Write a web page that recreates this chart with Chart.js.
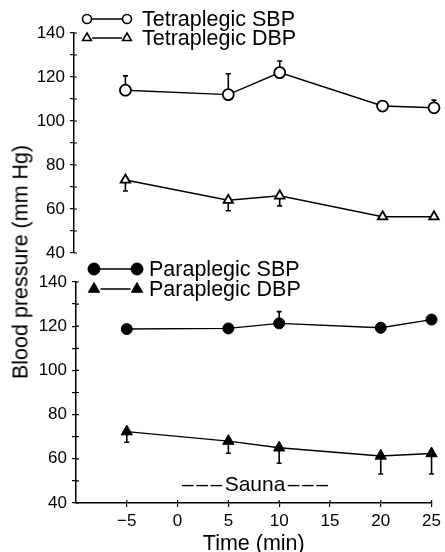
<!DOCTYPE html>
<html>
<head>
<meta charset="utf-8">
<script src="https://cdn.jsdelivr.net/npm/chart.js@4.4.1/dist/chart.umd.min.js"></script>
<style>
  html, body { margin: 0; padding: 0; background: #fff; }
  body { width: 445px; height: 552px; position: relative; overflow: hidden; font-family: "Liberation Sans", Arial, sans-serif; }
  .wrap { position: absolute; left: 0; width: 445px; }
  #top-wrap { top: 0; height: 270px; }
  #bottom-wrap { top: 260px; height: 297px; }
  #y-title {
    position: absolute; left: 21px; top: 262px;
    transform: translate(-50%, -50%) rotate(-90deg);
    white-space: nowrap; font-size: 21.5px; color: #000;
  }
</style>
</head>
<body>
<div class="wrap" id="top-wrap"><canvas id="top-chart" width="445" height="270"></canvas></div>
<div class="wrap" id="bottom-wrap"><canvas id="bottom-chart" width="445" height="297"></canvas></div>
<div id="y-title">Blood pressure (mm Hg)</div>
<script>
const timePoints = [-5, 5, 10, 20, 25];

const tetraSBP = [114, 112, 122, 106.8, 106];
const tetraSBPErr = [6.5, 9.5, 5.3, 0, 3.5];
const tetraDBP = [73.2, 64, 66, 56.5, 56.5];
const tetraDBPErr = [5, 4.8, 4.6, 0, 0];

const paraSBP = [118.7, 119, 121.3, 119.3, 123];
const paraSBPErr = [0, 0, 5.3, 0, 0];
const paraDBP = [72.3, 68, 65, 61.3, 62.4];
const paraDBPErr = [4.8, 5.5, 7, 8.2, 9.3];

const xTicks = [-5, 0, 5, 10, 15, 20, 25];
const yTickMarks = [40, 50, 60, 70, 80, 90, 100, 110, 120, 130, 140];
const yTickLabels = [40, 60, 80, 100, 120, 140];

const FONT = '"Liberation Sans", Arial, sans-serif';

function toPoints(values) {
  return timePoints.map((t, i) => ({ x: t, y: values[i] }));
}

function series(label, values, errs, dir, style, filled, radius) {
  return {
    label,
    data: toPoints(values),
    errors: errs,
    errorDir: dir,
    clip: false,
    borderColor: '#000',
    borderWidth: 1.4,
    tension: 0,
    pointStyle: style,
    pointRadius: radius,
    pointBackgroundColor: filled ? '#000' : '#fff',
    pointBorderColor: '#000',
    pointBorderWidth: filled ? 1 : 1.8
  };
}

// one-sided error bars with a small cap
const errorBars = {
  id: 'errorBars',
  beforeDatasetsDraw(chart) {
    const ctx = chart.ctx;
    const yScale = chart.scales.y;
    ctx.save();
    ctx.strokeStyle = '#000';
    ctx.lineWidth = 1.6;
    chart.data.datasets.forEach((ds, i) => {
      if (!ds.errors) return;
      const meta = chart.getDatasetMeta(i);
      ds.errors.forEach((err, j) => {
        if (!err) return;
        const el = meta.data[j];
        const y1 = yScale.getPixelForValue(ds.data[j].y + ds.errorDir * err);
        ctx.beginPath();
        ctx.moveTo(el.x, el.y);
        ctx.lineTo(el.x, y1);
        ctx.moveTo(el.x - 2.5, y1);
        ctx.lineTo(el.x + 2.5, y1);
        ctx.stroke();
      });
    });
    ctx.restore();
  }
};

// short tick marks on the inner side of the axes, so they read as crosses
const innerTicks = {
  id: 'innerTicks',
  afterDraw(chart) {
    const ctx = chart.ctx;
    const area = chart.chartArea;
    ctx.save();
    ctx.strokeStyle = '#000';
    ctx.lineWidth = 1.2;
    ctx.beginPath();
    chart.scales.y.ticks.forEach((t) => {
      const y = chart.scales.y.getPixelForValue(t.value);
      ctx.moveTo(area.left, y);
      ctx.lineTo(area.left + 3, y);
    });
    if (chart.scales.x.options.display) {
      chart.scales.x.ticks.forEach((t) => {
        const x = chart.scales.x.getPixelForValue(t.value);
        ctx.moveTo(x, area.bottom);
        ctx.lineTo(x, area.bottom - 3);
      });
    }
    ctx.stroke();
    ctx.restore();
  }
};

// "o—o Label" style legend rows
const panelLegend = {
  id: 'panelLegend',
  afterDraw(chart, args, opts) {
    const ctx = chart.ctx;
    ctx.save();
    (opts.rows || []).forEach((row) => {
      ctx.strokeStyle = '#000';
      ctx.lineWidth = 1.5;
      ctx.beginPath();
      ctx.moveTo(opts.x1 + row.r, row.y);
      ctx.lineTo(opts.x2 - row.r, row.y);
      ctx.stroke();
      [opts.x1, opts.x2].forEach((x) => {
        ctx.fillStyle = row.filled ? '#000' : '#fff';
        ctx.strokeStyle = '#000';
        ctx.lineWidth = row.filled ? 1 : 1.6;
        Chart.helpers.drawPoint(ctx, { pointStyle: row.style, radius: row.r, rotation: 0, borderWidth: ctx.lineWidth }, x, row.y);
      });
      ctx.fillStyle = '#000';
      ctx.font = `${opts.size}px ${FONT}`;
      ctx.textAlign = 'left';
      ctx.textBaseline = 'middle';
      ctx.fillText(row.label, opts.textX, row.y + 1);
    });
    ctx.restore();
  }
};

// "---Sauna---" marker; the dashes are spaced out a little
const saunaLabel = {
  id: 'saunaLabel',
  afterDraw(chart, args, opts) {
    const ctx = chart.ctx;
    const dashes = '\u2013\u2013\u2013';
    ctx.save();
    ctx.fillStyle = '#000';
    ctx.font = `21px ${FONT}`;
    ctx.textAlign = 'left';
    ctx.textBaseline = 'middle';
    ctx.letterSpacing = '2.5px';
    const dashW = ctx.measureText(dashes).width;
    ctx.letterSpacing = '0px';
    const wordW = ctx.measureText(opts.text).width;
    let x = opts.x - (2 * dashW + wordW) / 2;
    ctx.letterSpacing = '2.5px';
    ctx.fillText(dashes, x, opts.y);
    x += dashW;
    ctx.letterSpacing = '0px';
    ctx.fillText(opts.text, x, opts.y);
    x += wordW + 2.5;
    ctx.letterSpacing = '2.5px';
    ctx.fillText(dashes, x, opts.y);
    ctx.restore();
  }
};

function yAxis(width) {
  return {
    type: 'linear',
    min: 40,
    max: 140,
    afterBuildTicks: (s) => { s.ticks = yTickMarks.map((v) => ({ value: v })); },
    afterFit: (s) => { s.width = width; },
    border: { display: true, color: '#000', width: 1.5 },
    grid: { drawOnChartArea: false, drawTicks: true, tickLength: 4, color: '#000', lineWidth: 1.2 },
    ticks: {
      autoSkip: false,
      color: '#000',
      padding: 5,
      font: { family: FONT, size: 17 },
      callback: (v) => (yTickLabels.includes(v) ? String(v) : '')
    }
  };
}

function init() {
  new Chart(document.getElementById('top-chart'), {
    type: 'line',
    data: {
      datasets: [
        series('Tetraplegic SBP', tetraSBP, tetraSBPErr, 1, 'circle', false, 5.5),
        series('Tetraplegic DBP', tetraDBP, tetraDBPErr, -1, 'triangle', false, 5.5)
      ]
    },
    options: {
      responsive: false,
      animation: false,
      layout: { padding: { top: 33, right: 11, bottom: 17, left: 0 } },
      plugins: {
        legend: { display: false },
        tooltip: { enabled: false },
        panelLegend: {
          x1: 87, x2: 127, textX: 142, size: 21.5,
          rows: [
            { y: 19, label: 'Tetraplegic SBP', style: 'circle', filled: false, r: 4.5 },
            { y: 38, label: 'Tetraplegic DBP', style: 'triangle', filled: false, r: 5 }
          ]
        }
      },
      scales: {
        x: { type: 'linear', min: -10, max: 25, display: false },
        y: yAxis(74)
      }
    },
    plugins: [errorBars, innerTicks, panelLegend]
  });

  new Chart(document.getElementById('bottom-chart'), {
    type: 'line',
    data: {
      datasets: [
        series('Paraplegic SBP', paraSBP, paraSBPErr, 1, 'circle', true, 5.5),
        series('Paraplegic DBP', paraDBP, paraDBPErr, -1, 'triangle', true, 6.5)
      ]
    },
    options: {
      responsive: false,
      animation: false,
      layout: { padding: { top: 22, right: 11, bottom: 0, left: 0 } },
      plugins: {
        legend: { display: false },
        tooltip: { enabled: false },
        panelLegend: {
          x1: 94, x2: 137, textX: 149, size: 21.5,
          rows: [
            { y: 9, label: 'Paraplegic SBP', style: 'circle', filled: true, r: 6 },
            { y: 29, label: 'Paraplegic DBP', style: 'triangle', filled: true, r: 6.5 }
          ]
        },
        saunaLabel: { text: 'Sauna', x: 255, y: 225 }
      },
      scales: {
        x: {
          type: 'linear',
          min: -10,
          max: 25,
          afterBuildTicks: (s) => { s.ticks = xTicks.map((v) => ({ value: v })); },
          afterFit: (s) => { s.height = 54; },
          border: { display: true, color: '#000', width: 1.5 },
          grid: { drawOnChartArea: false, drawTicks: true, tickLength: 4, color: '#000', lineWidth: 1.2 },
          ticks: {
            autoSkip: false,
            maxRotation: 0,
            color: '#000',
            padding: 4,
            font: { family: FONT, size: 17 },
            callback: (v) => (v < 0 ? '\u2212' + Math.abs(v) : String(v))
          },
          title: { display: true, text: 'Time (min)', color: '#000', padding: 0, font: { family: FONT, size: 21.5 } }
        },
        y: yAxis(76)
      }
    },
    plugins: [errorBars, innerTicks, panelLegend, saunaLabel]
  });
}

document.addEventListener('DOMContentLoaded', init);
</script>
</body>
</html>
